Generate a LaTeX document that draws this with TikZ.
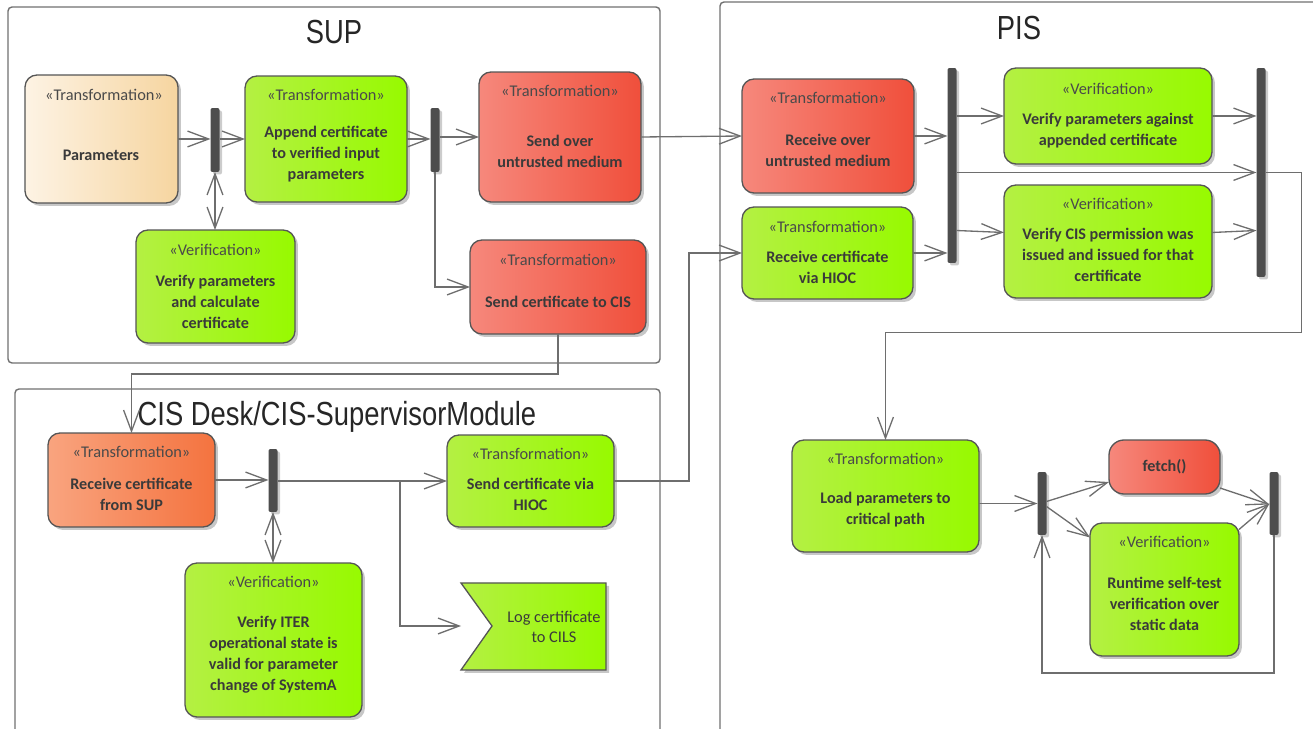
\documentclass[tikz,border=0pt]{standalone}
\usepackage{fontspec}
\setmainfont{Carlito}
\newfontfamily\titlefont[FakeStretch=0.82]{Liberation Sans}
\usetikzlibrary{arrows.meta,shadows,calc}

\definecolor{grnL}{HTML}{B4F043}
\definecolor{grnR}{HTML}{97FA00}
\definecolor{redL}{HTML}{F6887C}
\definecolor{redR}{HTML}{F04F3B}
\definecolor{ornL}{HTML}{F9A47F}
\definecolor{ornR}{HTML}{F4733F}
\definecolor{begL}{HTML}{FDF3E4}
\definecolor{begR}{HTML}{F6D5A0}
\definecolor{boxline}{HTML}{555555}
\definecolor{barfill}{HTML}{4D4D4D}
\definecolor{linegray}{HTML}{6E6E6E}
\definecolor{framegray}{HTML}{707070}
\definecolor{maintxt}{HTML}{3A3A3A}
\definecolor{stereotxt}{HTML}{4A4A4A}

\tikzset{
  act/.style={draw=boxline, line width=0.75pt, rounded corners=0.24cm,
    inner sep=0pt, outer sep=0pt,
    drop shadow={shadow xshift=0.06cm, shadow yshift=-0.06cm, fill=black, opacity=0.22}},
  grn/.style={act, left color=grnL, right color=grnR},
  rd/.style={act, left color=redL, right color=redR},
  orn/.style={act, left color=ornL, right color=ornR},
  beige/.style={act, left color=begL, right color=begR},
  bar/.style={fill=barfill, rounded corners=0.04cm, minimum width=0.18cm,
    inner sep=0pt, outer sep=0pt,
    drop shadow={shadow xshift=0.05cm, shadow yshift=-0.05cm, fill=black, opacity=0.2}},
  stereo/.style={font=\fontsize{9.3}{11.5}\selectfont, text=stereotxt},
  txt/.style={font=\fontsize{9.2}{11.9}\selectfont\bfseries, text=maintxt, align=center},
  flow/.style={draw=linegray, line width=0.75pt, -{Straight Barb[length=12pt,width=9pt]}},
  both/.style={flow, {Straight Barb[length=12pt,width=9pt]}-{Straight Barb[length=12pt,width=9pt]}},
  frame/.style={draw=framegray, line width=0.8pt, rounded corners=0.08cm},
  title/.style={font=\titlefont\fontsize{19}{22}\selectfont, text=black!85},
}

\begin{document}
\begin{tikzpicture}[x=0.02cm,y=-0.02cm]
  \useasboundingbox (0,0) rectangle (1313,729);
  \clip (0,0) rectangle (1313,729);

  % partitions
  \draw[frame] (8,7) rectangle (660,363);
  \draw[frame] (15,389) rectangle (660,745);
  \draw[frame] (720,2) rectangle (1325,745);
  \node[title] at (334,32) (supT) {SUP};
  \node[title] at (1019,28) (pisT) {PIS};
  \node[title] at (337,417) (cisT) {CIS Desk/CIS-SupervisorModule};

  % SUP
  \node[beige, minimum width=3.06cm, minimum height=2.56cm] at (101.5,139) (params) {};
  \node[stereo] at (104,95) (paramsS) {«Transformation»};
  \node[txt] at (101,155) (paramsT) {Parameters};

  \node[bar, minimum height=1.28cm] at (215,140) (fork1) {};

  \node[grn, minimum width=3.24cm, minimum height=2.52cm] at (326,139) (append) {};
  \node[stereo] at (326,95) (appendS) {«Transformation»};
  \node[txt] at (326,154) (appendT) {Append certificate\\to verified input\\parameters};

  \node[bar, minimum height=1.28cm] at (435,140) (fork2) {};

  \node[rd, minimum width=3.24cm, minimum height=2.6cm] at (560,137) (sendover) {};
  \node[stereo] at (560,91) (sendoverS) {«Transformation»};
  \node[txt] at (560,151) (sendoverT) {Send over\\untrusted medium};

  \node[grn, minimum width=3.18cm, minimum height=2.26cm] at (215.5,286.5) (calc) {};
  \node[stereo] at (215.5,250) (calcS) {«Verification»};
  \node[txt] at (215.5,302) (calcT) {Verify parameters\\and calculate\\certificate};

  \node[rd, minimum width=3.52cm, minimum height=1.88cm] at (558,287) (sendcis) {};
  \node[stereo] at (558,260) (sendcisS) {«Transformation»};
  \node[txt] at (558,302) (sendcisT) {Send certificate to CIS};

  \draw[flow] (params.east) -- (params.east -| fork1.west);
  \draw[flow] (fork1.east |- append.west) -- (append.west);
  \draw[flow] (append.east) -- (append.east -| fork2.west);
  \draw[flow] (fork2.east |- sendover.west) -- (sendover.west);
  \draw[flow] (fork2.south) |- (sendcis.west);
  \draw[both] (fork1.south) -- (fork1.south |- calc.north);

  % CIS Desk
  \node[orn, minimum width=3.34cm, minimum height=1.88cm] at (131.5,480) (recvsup) {};
  \node[stereo] at (131.5,452) (recvsupS) {«Transformation»};
  \node[txt] at (131.5,494) (recvsupT) {Receive certificate\\from SUP};

  \node[bar, minimum height=1.26cm] at (273,480.5) (fork7) {};

  \node[grn, minimum width=3.34cm, minimum height=1.84cm] at (530.5,481) (sendhioc) {};
  \node[stereo] at (530.5,454) (sendhiocS) {«Transformation»};
  \node[txt] at (530.5,494) (sendhiocT) {Send certificate via\\HIOC};

  \node[grn, minimum width=3.54cm, minimum height=3.08cm] at (273.5,640) (iter) {};
  \node[stereo] at (273.5,582) (iterS) {«Verification»};
  \node[txt] at (273.5,655) (iterT) {Verify ITER\\operational state is\\valid for parameter\\change of SystemA};

  \draw[grn, rounded corners=0pt] (461,583) -- (606,583) -- (606,670) -- (461,670) -- (492,626) -- cycle;
  \node[stereo, text=maintxt, align=center] at (554,627) (log) {Log certificate\\to CILS};

  \coordinate (split) at (400,481);
  \coordinate (login) at (461,626);

  \draw[flow] (sendcis.south) -- ++(0,40) -| (recvsup.north);
  \draw[flow] (recvsup.east) -- (recvsup.east -| fork7.west);
  \draw[flow] (fork7.east |- sendhioc.west) -- (sendhioc.west);
  \draw[flow] (split) |- (login);
  \draw[both] (fork7.south) -- (fork7.south |- iter.north);

  % PIS
  \node[rd, minimum width=3.44cm, minimum height=2.28cm] at (828,136) (recvover) {};
  \node[stereo] at (828,98) (recvoverS) {«Transformation»};
  \node[txt] at (828,150) (recvoverT) {Receive over\\untrusted medium};

  \node[grn, minimum width=3.42cm, minimum height=1.84cm] at (827.5,253) (recvhioc) {};
  \node[stereo] at (827.5,227) (recvhiocS) {«Transformation»};
  \node[txt] at (827.5,267) (recvhiocT) {Receive certificate\\via HIOC};

  \node[bar, minimum height=3.9cm] at (952,165.5) (fork3) {};

  \node[grn, minimum width=4.16cm, minimum height=1.92cm] at (1108,116) (checkapp) {};
  \node[stereo] at (1108,89) (checkappS) {«Verification»};
  \node[txt] at (1108,131) (checkappT) {Verify parameters against\\appended certificate};

  \node[grn, minimum width=4.16cm, minimum height=2.26cm] at (1108,241.5) (checkcis) {};
  \node[stereo] at (1108,204) (checkcisS) {«Verification»};
  \node[txt] at (1108,255) (checkcisT) {Verify CIS permission was\\issued and issued for that\\certificate};

  \node[bar, minimum height=4.18cm] at (1261,172.5) (join4) {};

  \node[grn, minimum width=3.74cm, minimum height=2.24cm] at (885.5,496) (load) {};
  \node[stereo] at (885.5,459) (loadS) {«Transformation»};
  \node[txt] at (885.5,510) (loadT) {Load parameters to\\critical path};

  \node[bar, minimum height=1.26cm] at (1042,503.5) (fork5) {};

  \node[rd, rounded corners=0.3cm, minimum width=2.22cm, minimum height=1.08cm,
    font=\fontsize{9.2}{11.9}\selectfont\bfseries, text=maintxt] at (1164.5,467) (fetch) {fetch()};

  \node[grn, minimum width=2.98cm, minimum height=2.66cm] at (1164.5,589.5) (selftest) {};
  \node[stereo] at (1164.5,542) (selftestS) {«Verification»};
  \node[txt] at (1164.5,604) (selftestT) {Runtime self-test\\verification over\\static data};

  \node[bar, minimum height=1.26cm] at (1274,503.5) (join6) {};

  \draw[flow] (sendover.east) -- (recvover.west);
  \draw[flow] (sendhioc.east) -- ++(75,0) |- (recvhioc.west);
  \draw[flow] (recvover.east) -- (recvover.east -| fork3.west);
  \draw[flow] (recvhioc.east) -- (recvhioc.east -| fork3.west);
  \draw[flow] (fork3.east |- checkapp.west) -- (checkapp.west);
  \draw[flow] ($(fork3.east |- checkcis.west)+(0,-11)$) -- ($(checkcis.west)+(0,-9)$);
  \draw[flow] (fork3.east |- join4.west) -- (join4.west);
  \draw[flow] (checkapp.east) -- (checkapp.east -| join4.west);
  \draw[flow] ($(checkcis.east)+(0,-9)$) -- ($(checkcis.east -| join4.west)+(0,-11)$);
  \draw[flow] (join4.east) -- ++(36,0) -- ++(0,160) -| (load.north);

  \draw[flow] (fork5.west -| load.east) -- (fork5.west);
  \draw[flow] ($(fork5.east)+(0,-2)$) -- ($(fetch.west)+(0,15)$);
  \draw[flow] ($(fork5.east)+(0,3)$) -- ($(selftest.west)+(0,-52)$);
  \draw[flow] ($(fetch.east)+(0,21)$) -- ($(join6.west)+(0,1)$);
  \draw[flow] ($(selftest.east)+(0,-60)$) -- (join6.west);
  \draw[flow] (join6.south) -- ++(0,138) -| (fork5.south);
\end{tikzpicture}
\end{document}
